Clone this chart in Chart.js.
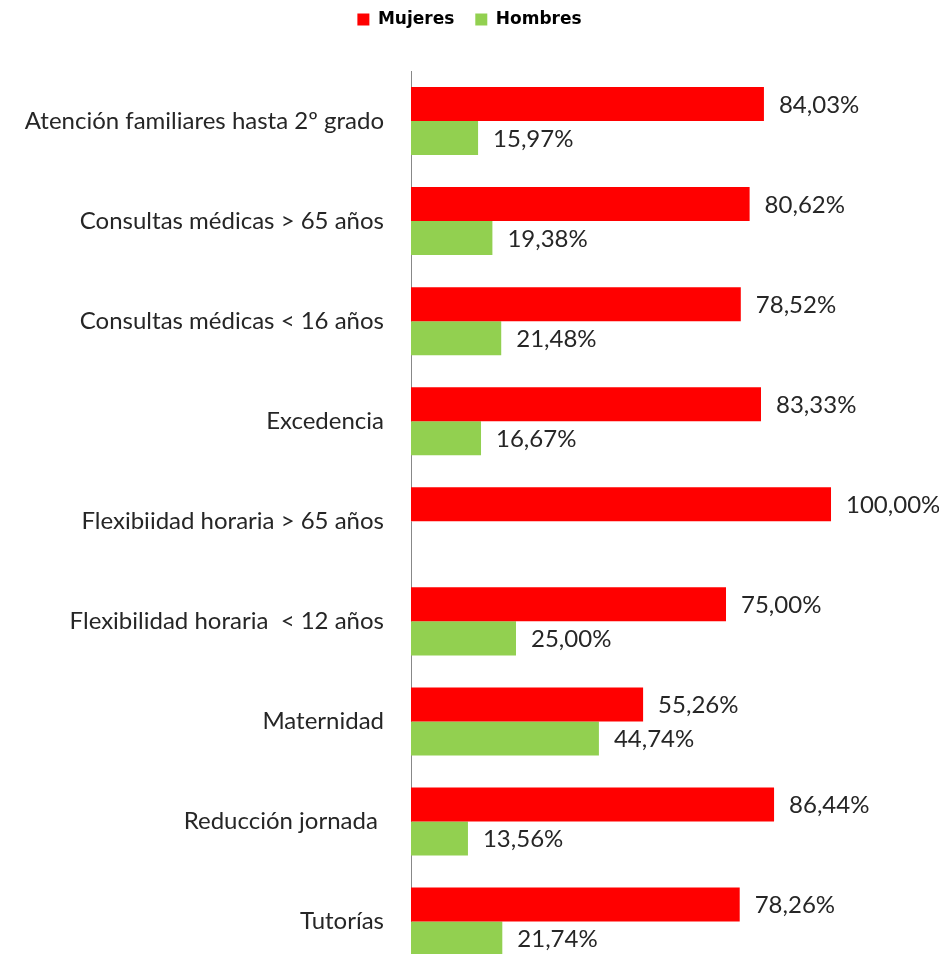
<!DOCTYPE html>
<html>
<head>
<meta charset="utf-8">
<script src="https://cdn.jsdelivr.net/npm/chart.js@4"></script>
<style>
  html, body { margin: 0; padding: 0; background: #fff; overflow: hidden; }
  #wrap { width: 939px; height: 1005px; }
</style>
</head>
<body>
<div id="wrap"><canvas id="chart" width="939" height="1005"></canvas></div>
<script>
// Categories top to bottom, shares in percent
const categories = [
  "Atención familiares hasta 2º grado",
  "Consultas médicas > 65 años",
  "Consultas médicas < 16 años",
  "Excedencia",
  "Flexibiidad horaria > 65 años",
  "Flexibilidad horaria  < 12 años",
  "Maternidad",
  "Reducción jornada ",
  "Tutorías",
]
const mujeres = [84.03, 80.62, 78.52, 83.33, 100.00, 75.00, 55.26, 86.44, 78.26]
const hombres = [15.97, 19.38, 21.48, 16.67, null, 25.00, 44.74, 13.56, 21.74]

const RED   = "#ff0000"
const GREEN = "#92d050"
const TEXT  = "#262626"
const FONT  = "Lato, 'Open Sans', sans-serif"

const fmt = (v) => v.toFixed(2).replace(".", ",") + "%"

// value labels at the end of each bar
const valueLabels = {
  id: "valueLabels",
  afterDatasetsDraw(chart) {
    const ctx = chart.ctx
    ctx.save()
    ctx.font = "24px " + FONT
    ctx.fillStyle = TEXT
    ctx.textAlign = "left"
    ctx.textBaseline = "middle"
    chart.data.datasets.forEach((ds, di) => {
      const meta = chart.getDatasetMeta(di)
      meta.data.forEach((bar, i) => {
        const v = ds.data[i]
        if (v == null) return
        ctx.fillText(fmt(v), bar.x + 15, bar.y + 1)
      })
    })
    ctx.restore()
  },
}

new Chart(document.getElementById("chart"), {
  type: "bar",
  data: {
    labels: categories,
    datasets: [
      { label: "Mujeres", data: mujeres, backgroundColor: RED, categoryPercentage: 0.68, barPercentage: 1.0 },
      { label: "Hombres", data: hombres, backgroundColor: GREEN, categoryPercentage: 0.68, barPercentage: 1.0 },
    ],
  },
  options: {
    indexAxis: "y",
    responsive: false,
    animation: false,
    layout: { padding: { left: 0, right: 0, top: -10, bottom: 4 } },
    scales: {
      // hidden top axis only reserves the gap under the legend
      x: {
        position: "top",
        min: 0,
        max: 125.71,
        grid: { display: false },
        border: { display: false },
        ticks: { display: false },
        afterFit: (scale) => { scale.height = 33 },
      },
      y: {
        afterFit: (scale) => { scale.width = 411 },
        grid: { display: false },
        border: { display: true, color: "#888888", width: 1 },
        ticks: { color: TEXT, font: { family: FONT, size: 24 }, padding: 19 },
      },
    },
    plugins: {
      legend: {
        position: "top",
        labels: {
          color: "#000",
          font: { family: "'DejaVu Sans', sans-serif", size: 17, weight: "bold" },
          boxWidth: 12,
          boxHeight: 12,
          padding: 21,
        },
      },
      tooltip: { enabled: false },
    },
  },
  plugins: [valueLabels],
})
</script>
</body>
</html>
